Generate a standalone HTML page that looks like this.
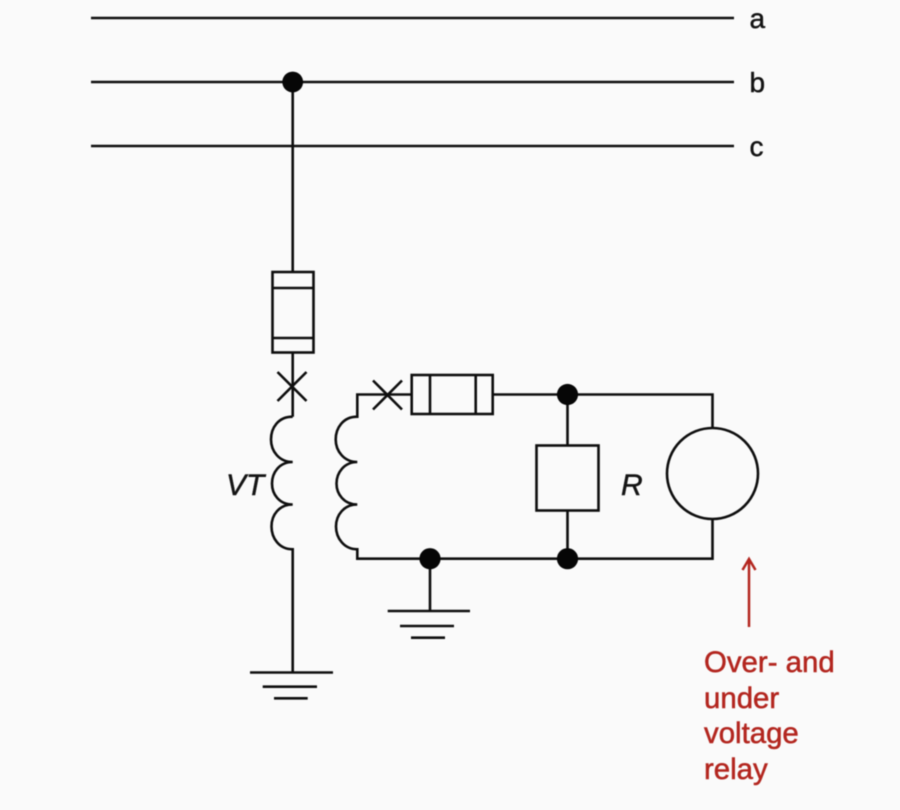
<!DOCTYPE html>
<html><head><meta charset="utf-8"><style>
html,body{margin:0;padding:0;background:#fafafa;width:900px;height:810px;overflow:hidden}
svg{display:block;filter:blur(.45px)}
text{font-family:"Liberation Sans",Arial,sans-serif}
</style></head><body>
<svg width="900" height="810" viewBox="0 0 900 810" xmlns="http://www.w3.org/2000/svg">
<rect width="900" height="810" fill="#fafafa"/>
<g fill="none" stroke="#0e0e0e" stroke-width="2.6">
<path d="M91 18H734M91 82H734M91 146H734"/>
<path d="M292.7 82V272M292.7 352.5V416.7"/>
<rect x="272.5" y="272" width="41" height="80.5"/>
<path d="M272.5 288H313.5M272.5 338H313.5"/>
<path d="M277.5 372L306.5 401M306.5 372L277.5 401"/>
<path d="M292.7 416.7C278 416.7 271 428 271 439.5C271 451 279 462 292.7 462C279 462 272 473 272 483.5C272 494 279 504.5 292.7 504.5C279 504.5 271.5 515 271.5 526.5C271.5 538 279 549.3 292.7 549.3V672.5"/>
<path d="M250 672.5H333M262.7 686.7H317M274 698.3H307.7"/>
<path d="M411.7 394.5H357.3V416.7C343 416.7 335.7 428 335.7 439.5C335.7 451 344 462 357.3 462C344 462 336.5 473 336.5 483.5C336.5 494 344 504.5 357.3 504.5C344 504.5 336 515 336 526.5C336 538 344 549.3 357.3 549.3V558.7H712.5V519"/>
<path d="M373 380.5L402 409.5M402 380.5L373 409.5"/>
<rect x="411.7" y="375" width="81" height="39"/>
<path d="M430 375V414M475.7 375V414"/>
<path d="M492.7 394.5H712.5V428"/>
<path d="M567.5 394.5V445M567.5 510V558.7"/>
<rect x="536.5" y="445.5" width="62" height="65"/>
<circle cx="712.5" cy="473.5" r="45.5"/>
<path d="M430 558.7V611M387.7 611H470M400 626H454M411 637.7H445"/>
</g>
<g fill="#060606">
<circle cx="292.7" cy="82" r="10.4"/>
<circle cx="567.5" cy="394.5" r="10.6"/>
<circle cx="430" cy="558.7" r="10.6"/>
<circle cx="567.5" cy="558.7" r="10.6"/>
</g>
<g fill="none" stroke="#b3261f" stroke-width="2.5">
<path d="M749 559V627M742.5 570L749 559L755.5 570"/>
</g>
<g fill="#141414" stroke="#141414" stroke-width=".45">
<text x="749.5" y="28" font-size="28">a</text>
<text x="749.5" y="92" font-size="28">b</text>
<text x="749.5" y="156" font-size="28">c</text>
<text x="226" y="495" font-size="30" font-style="italic">VT</text>
<text x="621" y="495" font-size="30" font-style="italic">R</text>
</g>
<g fill="#b3261f" stroke="#b3261f" stroke-width=".5" font-size="29.4">
<text x="704" y="672">Over- and</text>
<text x="704" y="708">under</text>
<text x="704" y="743">voltage</text>
<text x="704" y="779">relay</text>
</g>
</svg>
</body></html>
